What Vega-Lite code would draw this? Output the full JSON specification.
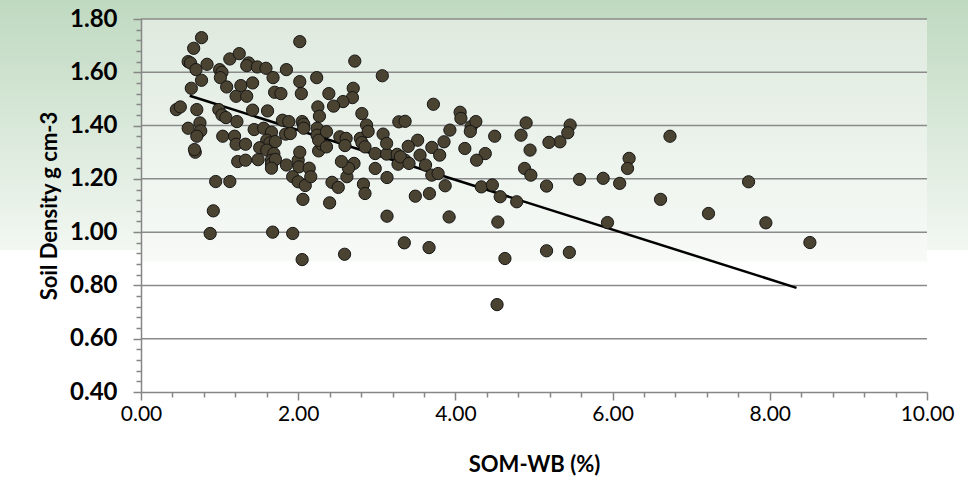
{
  "$schema": "https://vega.github.io/schema/vega-lite/v6.json",
  "width": 786,
  "height": 373,
  "autosize": "none",
  "padding": {"left": 141, "top": 19, "right": 41, "bottom": 86},
  "background": "#ffffff",
  "config": {"view": {"stroke": null}, "font": "Lato", "axis": {"labelOverlap": false, "labelFlush": false}},
  "resolve": {"axis": {"x": "independent", "y": "independent"}},
  "datasets": {
    "points": [
      {"som":0.45,"density":1.46},{"som":0.50,"density":1.47},{"som":0.60,"density":1.39},{"som":0.60,"density":1.64},{"som":0.63,"density":1.635},
      {"som":0.67,"density":1.69},{"som":0.77,"density":1.73},{"som":0.70,"density":1.61},{"som":0.84,"density":1.63},{"som":0.77,"density":1.57},
      {"som":0.64,"density":1.54},{"som":0.71,"density":1.46},{"som":0.75,"density":1.41},{"som":0.76,"density":1.38},{"som":0.71,"density":1.36},
      {"som":0.69,"density":1.30},{"som":0.68,"density":1.31},{"som":0.88,"density":0.995},{"som":0.92,"density":1.08},{"som":0.95,"density":1.19},
      {"som":1.13,"density":1.19},{"som":1.00,"density":1.61},{"som":1.03,"density":1.60},{"som":1.01,"density":1.58},{"som":1.09,"density":1.545},
      {"som":1.13,"density":1.65},{"som":1.25,"density":1.67},{"som":1.21,"density":1.51},{"som":1.27,"density":1.55},{"som":1.345,"density":1.51},
      {"som":1.42,"density":1.56},{"som":1.37,"density":1.635},{"som":1.345,"density":1.625},{"som":1.48,"density":1.62},{"som":1.59,"density":1.615},
      {"som":1.68,"density":1.58},{"som":1.70,"density":1.525},{"som":1.78,"density":1.52},{"som":1.85,"density":1.61},{"som":2.02,"density":1.715},
      {"som":2.02,"density":1.565},{"som":2.04,"density":1.52},{"som":2.235,"density":1.58},{"som":2.39,"density":1.52},{"som":2.25,"density":1.47},
      {"som":2.27,"density":1.435},{"som":0.99,"density":1.46},{"som":1.03,"density":1.44},{"som":1.08,"density":1.43},{"som":1.22,"density":1.415},
      {"som":1.42,"density":1.458},{"som":1.61,"density":1.455},{"som":1.44,"density":1.385},{"som":1.56,"density":1.39},{"som":1.66,"density":1.375},
      {"som":1.60,"density":1.345},{"som":1.64,"density":1.335},{"som":1.71,"density":1.34},{"som":1.80,"density":1.42},{"som":1.88,"density":1.415},
      {"som":2.05,"density":1.415},{"som":2.07,"density":1.405},{"som":2.07,"density":1.39},{"som":1.04,"density":1.36},{"som":1.19,"density":1.36},
      {"som":1.21,"density":1.33},{"som":1.33,"density":1.33},{"som":1.84,"density":1.368},{"som":1.90,"density":1.37},{"som":1.51,"density":1.317},
      {"som":1.60,"density":1.308},{"som":1.69,"density":1.295},{"som":1.66,"density":1.27},{"som":2.26,"density":1.305},{"som":2.30,"density":1.33},
      {"som":1.23,"density":1.265},{"som":1.33,"density":1.27},{"som":1.49,"density":1.272},{"som":1.66,"density":1.255},{"som":1.71,"density":1.273},
      {"som":1.85,"density":1.252},{"som":2.00,"density":1.27},{"som":2.02,"density":1.30},{"som":2.01,"density":1.245},{"som":1.66,"density":1.24},
      {"som":1.93,"density":1.208},{"som":2.00,"density":1.189},{"som":2.09,"density":1.175},{"som":2.14,"density":1.24},{"som":2.16,"density":1.208},
      {"som":2.43,"density":1.187},{"som":2.51,"density":1.168},{"som":2.62,"density":1.208},{"som":2.06,"density":1.123},{"som":2.40,"density":1.11},
      {"som":1.675,"density":1.00},{"som":1.93,"density":0.995},{"som":2.05,"density":0.897},{"som":2.24,"density":1.39},{"som":2.24,"density":1.364},
      {"som":2.26,"density":1.345},{"som":2.36,"density":1.377},{"som":2.36,"density":1.32},{"som":2.53,"density":1.358},{"som":2.61,"density":1.352},
      {"som":2.595,"density":1.325},{"som":2.71,"density":1.258},{"som":2.64,"density":1.24},{"som":2.55,"density":1.265},{"som":2.79,"density":1.352},
      {"som":2.81,"density":1.336},{"som":2.85,"density":1.32},{"som":2.98,"density":1.295},{"som":3.125,"density":1.293},{"som":3.26,"density":1.292},
      {"som":3.36,"density":1.27},{"som":2.98,"density":1.239},{"som":3.13,"density":1.205},{"som":3.27,"density":1.255},{"som":2.83,"density":1.18},
      {"som":2.85,"density":1.145},{"som":3.13,"density":1.06},{"som":2.59,"density":0.917},{"som":3.35,"density":0.96},{"som":3.49,"density":1.135},
      {"som":3.67,"density":1.145},{"som":3.665,"density":0.942},{"som":3.87,"density":1.174},{"som":3.92,"density":1.057},{"som":2.70,"density":1.54},
      {"som":2.69,"density":1.505},{"som":2.57,"density":1.49},{"som":2.45,"density":1.473},{"som":2.72,"density":1.642},{"som":3.07,"density":1.587},
      {"som":2.81,"density":1.445},{"som":2.87,"density":1.402},{"som":2.89,"density":1.378},{"som":3.08,"density":1.368},{"som":3.125,"density":1.333},
      {"som":3.28,"density":1.414},{"som":3.36,"density":1.416},{"som":3.72,"density":1.48},{"som":4.06,"density":1.45},{"som":4.07,"density":1.427},
      {"som":4.20,"density":1.396},{"som":4.26,"density":1.415},{"som":4.19,"density":1.378},{"som":3.93,"density":1.383},{"som":3.855,"density":1.339},
      {"som":3.52,"density":1.345},{"som":3.40,"density":1.322},{"som":3.70,"density":1.318},{"som":3.80,"density":1.289},{"som":4.12,"density":1.314},
      {"som":4.38,"density":1.295},{"som":4.27,"density":1.27},{"som":3.55,"density":1.289},{"som":3.30,"density":1.283},{"som":3.41,"density":1.258},
      {"som":3.62,"density":1.252},{"som":3.70,"density":1.214},{"som":3.78,"density":1.22},{"som":4.33,"density":1.17},{"som":4.47,"density":1.177},
      {"som":4.90,"density":1.41},{"som":4.835,"density":1.364},{"som":4.50,"density":1.36},{"som":4.95,"density":1.308},{"som":5.46,"density":1.402},
      {"som":5.43,"density":1.373},{"som":5.33,"density":1.339},{"som":5.19,"density":1.337},{"som":4.88,"density":1.239},{"som":4.96,"density":1.214},
      {"som":5.16,"density":1.173},{"som":4.57,"density":1.133},{"som":4.78,"density":1.114},{"som":5.58,"density":1.198},{"som":5.88,"density":1.202},
      {"som":6.09,"density":1.183},{"som":6.21,"density":1.277},{"som":6.19,"density":1.239},{"som":4.54,"density":1.038},{"som":5.935,"density":1.036},
      {"som":4.63,"density":0.901},{"som":5.16,"density":0.93},{"som":5.45,"density":0.924},{"som":4.53,"density":0.728},{"som":6.61,"density":1.123},
      {"som":7.73,"density":1.189},{"som":7.22,"density":1.07},{"som":7.95,"density":1.035},{"som":8.51,"density":0.961},{"som":6.73,"density":1.36}
    ],
    "fit": [{"som":0.62,"density":1.512},{"som":8.34,"density":0.791}],
    "grid": [{"g":0.6},{"g":0.8},{"g":1.0},{"g":1.2},{"g":1.4},{"g":1.6},{"g":1.8}]
  },
  "layer": [
    {
      "data": {"values": [{}]},
      "mark": {"type": "rect", "clip": false,
        "fill": {"gradient": "linear", "x1": 0, "y1": 0, "x2": 0, "y2": 1,
          "stops": [{"offset": 0, "color": "#bed8bf"}, {"offset": 0.015, "color": "#bfd9c0"}, {"offset": 0.508, "color": "#f2f7f2"}, {"offset": 0.51, "color": "#ffffff"}, {"offset": 1, "color": "#ffffff"}]}},
      "encoding": {
        "x": {"datum": -2, "type": "quantitative", "scale": {"domain": [0, 10], "nice": false, "zero": false},
          "axis": {"orient": "bottom", "values": [0.4,0.8,1.2,1.6,2.4,2.8,3.2,3.6,4.4,4.8,5.2,5.6,6.4,6.8,7.2,7.6,8.4,8.8,9.2,9.6],
            "tickSize": 5, "tickWidth": 1.5, "tickColor": "#868686", "labels": false, "domain": false, "grid": false, "title": null, "zindex": 1}},
        "x2": {"datum": 11},
        "y": {"datum": 1.9, "type": "quantitative", "scale": {"domain": [0.4, 1.8], "nice": false, "zero": false},
          "axis": {"orient": "left", "values": [0.44,0.48,0.52,0.56,0.64,0.68,0.72,0.76,0.84,0.88,0.92,0.96,1.04,1.08,1.12,1.16,1.24,1.28,1.32,1.36,1.44,1.48,1.52,1.56,1.64,1.68,1.72,1.76],
            "tickSize": 5, "tickWidth": 1.5, "tickColor": "#868686", "labels": false, "domain": false, "grid": false, "title": null, "zindex": 1}},
        "y2": {"datum": 0}
      }
    },
    {
      "data": {"values": [{}]},
      "mark": {"type": "rect", "clip": false,
        "fill": {"gradient": "linear", "x1": 0, "y1": 0, "x2": 0, "y2": 1,
          "stops": [{"offset": 0, "color": "#dfeadf"}, {"offset": 0.648, "color": "#f7faf7"}, {"offset": 0.652, "color": "#ffffff"}, {"offset": 1, "color": "#ffffff"}]}},
      "encoding": {
        "x": {"datum": 0, "type": "quantitative", "scale": {"domain": [0, 10], "nice": false, "zero": false}, "axis": null},
        "x2": {"datum": 10},
        "y": {"datum": 1.8, "type": "quantitative", "scale": {"domain": [0.4, 1.8], "nice": false, "zero": false}, "axis": null},
        "y2": {"datum": 0.4}
      }
    },
    {
      "data": {"name": "grid"},
      "mark": {"type": "rule", "color": "#8a8a8a", "strokeWidth": 1.5},
      "encoding": {
        "y": {"field": "g", "type": "quantitative", "scale": {"domain": [0.4, 1.8], "nice": false, "zero": false}, "axis": null}
      }
    },
    {
      "data": {"name": "fit"},
      "mark": {"type": "line", "color": "#000000", "strokeWidth": 2.5},
      "encoding": {
        "x": {"field": "som", "type": "quantitative", "scale": {"domain": [0, 10], "nice": false, "zero": false}, "axis": null},
        "y": {"field": "density", "type": "quantitative", "scale": {"domain": [0.4, 1.8], "nice": false, "zero": false}, "axis": null}
      }
    },
    {
      "data": {"name": "points"},
      "mark": {"type": "circle", "size": 150, "fill": "#4b4331", "stroke": "#151515", "strokeWidth": 1, "opacity": 1, "fillOpacity": 1},
      "encoding": {
        "x": {"field": "som", "type": "quantitative", "scale": {"domain": [0, 10], "nice": false, "zero": false}, "title": "SOM-WB (%)",
          "axis": {
            "orient": "bottom", "values": [0,2,4,6,8,10], "format": ".2f", "tickSize": 8,
            "grid": false, "zindex": 1, "labelOverlap": false, "labelFlush": false,
            "domainColor": "#868686", "domainWidth": 1.5, "tickColor": "#868686", "tickWidth": 1.5,
            "labelFont": "Lato", "labelFontSize": 21, "labelFontWeight": "normal", "labelColor": "#000000", "labelPadding": 3,
            "titleFont": "Lato", "titleFontSize": 22, "titleFontWeight": "bold", "titleColor": "#000000", "titlePadding": 30
          }},
        "y": {"field": "density", "type": "quantitative", "scale": {"domain": [0.4, 1.8], "nice": false, "zero": false}, "title": "Soil Density g cm-3",
          "axis": {
            "orient": "left", "values": [0.4,0.6,0.8,1.0,1.2,1.4,1.6,1.8], "format": ".2f", "tickSize": 8,
            "grid": false, "zindex": 1, "labelOverlap": false, "labelFlush": false,
            "domainColor": "#868686", "domainWidth": 1.5, "tickColor": "#868686", "tickWidth": 1.5,
            "labelFont": "Lato", "labelFontSize": 24, "labelFontWeight": "bold", "labelColor": "#000000", "labelPadding": 16,
            "titleFont": "Lato", "titleFontSize": 22, "titleFontWeight": "bold", "titleColor": "#000000", "titlePadding": 8
          }}
      }
    }
  ]
}
